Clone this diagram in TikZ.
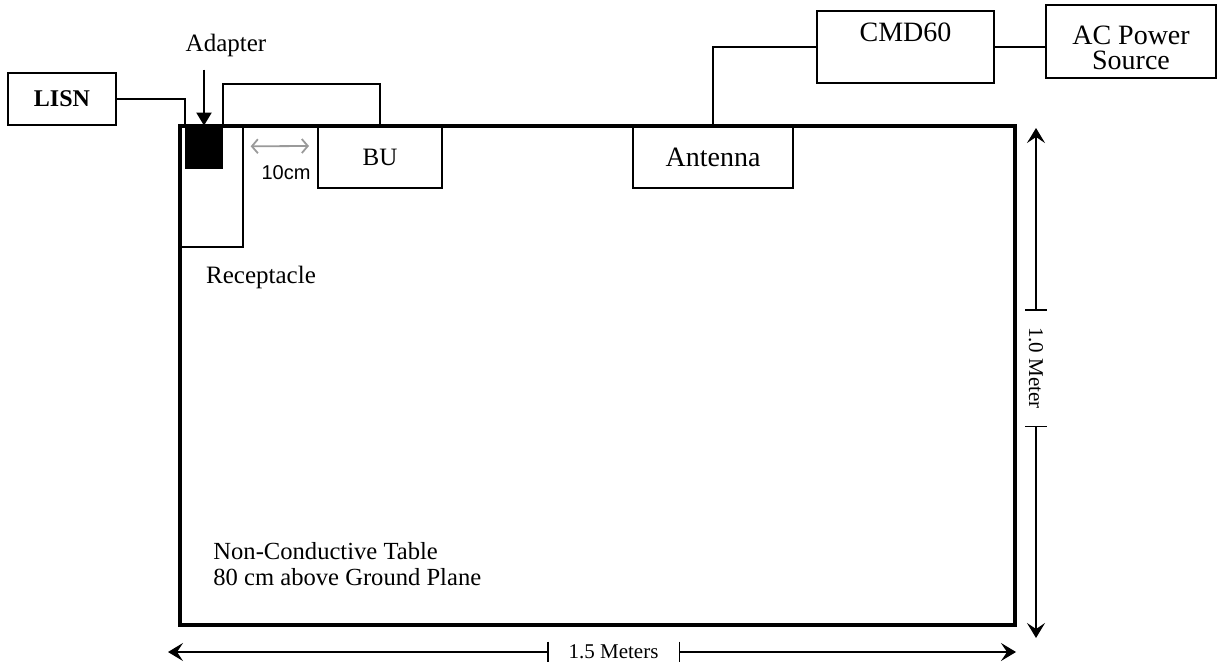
\documentclass[tikz,border=0pt]{standalone}
\usepackage{fontspec}
\setmainfont{Liberation Serif}
\setsansfont{Liberation Sans}
\usepackage{tikz}
\usetikzlibrary{arrows.meta, positioning, calc}
\definecolor{tgray}{HTML}{9A9A9A}

\begin{document}
\begin{tikzpicture}[x=0.5pt, y=-0.5pt,
  box/.style={draw, line width=1pt, inner sep=0pt, font=\fontsize{12.5}{14}\selectfont},
  bigtxt/.style={inner sep=0pt, align=center, font=\fontsize{14}{12.5}\selectfont},
  wire/.style={line width=1pt},
  ptr/.style={line width=1pt, -{Triangle[length=6.5pt, width=7.5pt]}},
  dimarrow/.style={line width=0.9pt, -{Stealth[length=7.5pt, width=9pt, inset=3pt]}},
  dimlbl/.style={inner sep=0pt, font=\fontsize{10.5}{12}\selectfont},
  lbl/.style={inner sep=0pt, font=\fontsize{12.5}{14}\selectfont}]
\useasboundingbox (0,0) rectangle (1224,663);
% table outline
\node[draw, line width=1.6pt, minimum width=417.5pt, minimum height=249.5pt, inner sep=0pt]
  (table) at (597.5,375.5) {};
% equipment on the table
\node[draw, line width=0.7pt, minimum width=31.5pt, minimum height=60.5pt, inner sep=0pt]
  (recep) at (211.5,186.5) {};
\node[fill=black, minimum width=19pt, minimum height=21.5pt, inner sep=0pt]
  (adapter) at (204,147.5) {};
\node[box, minimum width=62pt, minimum height=31pt] (bu) at (380,157) {BU};
\node[box, font=\fontsize{14}{16}\selectfont, minimum width=80pt, minimum height=31pt]
  (antenna) at (713,157) {Antenna};
% equipment off the table
\node[box, font=\bfseries\fontsize{12}{14}\selectfont, minimum width=54pt, minimum height=26pt]
  (lisn) at (62,99) {LISN};
\node[box, minimum width=88.5pt, minimum height=36pt] (cmd) at (905.5,47) {};
\node[bigtxt] (cmdtxt) at (905.5,32) {CMD60};
\node[box, minimum width=85pt, minimum height=36.5pt] (ac) at (1131,41.5) {};
\node[bigtxt] (actxt) at (1131,48) {AC Power\\Source};
% labels
\node[lbl] (adapterlbl) at (226,45) {Adapter};
\node[lbl] (receplbl) at (261,277) {Receptacle};
\node[font=\sffamily\fontsize{10}{12}\selectfont, inner sep=0pt] (tencm) at (286,173) {10cm};
\node[lbl, anchor=west, align=left, font=\fontsize{12.3}{13}\selectfont]
  (note) at (213,564) {Non-Conductive Table\\80 cm above Ground Plane};
% cables
\draw[wire] (lisn.east) -| (adapter.north west);
\draw[wire] (adapter.north east) -- ++(0,-42) -| (bu.north);
\draw[wire] (antenna.north) |- (cmd.west);
\draw[wire] (cmd.east) -- (cmd.east -| ac.west);
\draw[ptr] ($(adapter.north)+(0,-56)$) -- (adapter.north);
\draw[tgray, line width=0.9pt, {Straight Barb[length=3pt, width=7pt]}-{Straight Barb[length=3pt, width=7pt]}]
  ($(recep.north east)+(7,21)$) -- ($(bu.north west)+(-8,21)$);
% dimensions
\coordinate (vtop) at (1036,128);
\coordinate (vbot) at (1036,638);
\coordinate (hleft) at (168,652);
\coordinate (hright) at (1016,652);
\node[dimlbl, rotate=-90, minimum width=58pt, minimum height=10.5pt] (vlbl) at (1036,368) {1.0 Meter};
\node[dimlbl, minimum width=65.5pt, minimum height=10pt] (hlbl) at (613.5,652) {1.5 Meters};
\draw[line width=0.9pt] (vlbl.north west) -- (vlbl.south west)
  (vlbl.north east) -- (vlbl.south east);
\draw[line width=0.9pt] (hlbl.north west) -- (hlbl.south west)
  (hlbl.north east) -- (hlbl.south east);
\draw[dimarrow, line width=0.7pt] (vlbl.west) -- (vtop);
\draw[dimarrow, line width=0.7pt] (vlbl.east) -- (vbot);
\draw[dimarrow] (hlbl.west) -- (hleft);
\draw[dimarrow] (hlbl.east) -- (hright);
\end{tikzpicture}
\end{document}
